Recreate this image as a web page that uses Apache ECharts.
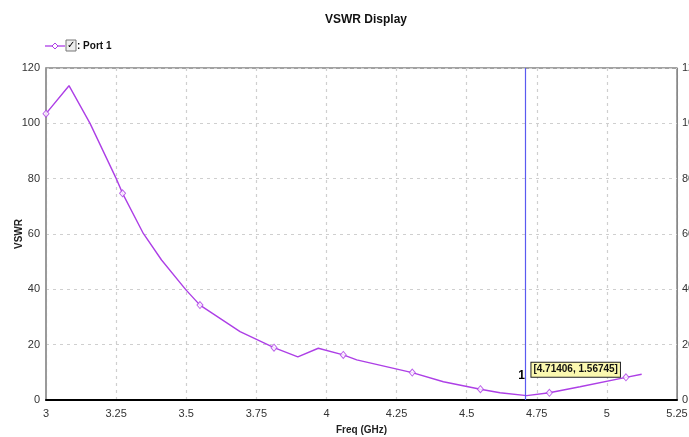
<!DOCTYPE html>
<html>
<head>
<meta charset="utf-8">
<script src="https://cdn.jsdelivr.net/npm/echarts@6/dist/echarts.min.js"></script>
<style>html,body{margin:0;padding:0;background:#fff;}#c{width:689px;height:437px;}</style>
</head>
<body>
<div id="c"></div>
<script>
// Curve samples (Freq GHz, VSWR)
var freq = [3.0, 3.082, 3.157, 3.25, 3.273, 3.347, 3.412, 3.499, 3.549, 3.692, 3.813, 3.898, 3.971, 4.060, 4.108, 4.306, 4.417, 4.549, 4.619, 4.714, 4.795, 4.904, 5.068, 5.124];
var vswr = [103.5, 113.6, 100.0, 80.1, 74.7, 60.2, 50.6, 39.8, 34.3, 24.7, 18.9, 15.6, 18.7, 16.3, 14.5, 9.9, 6.6, 3.9, 2.6, 1.57, 2.6, 4.8, 8.2, 9.3];
// Diamond markers on the trace
var markerFreq = [3.0, 3.273, 3.549, 3.813, 4.060, 4.306, 4.549, 4.795, 5.068];
var markerVswr = [103.5, 74.7, 34.3, 18.9, 16.3, 9.9, 3.9, 2.6, 8.2];
// Marker 1
var m1Freq = 4.71406;
var m1Vswr = 1.56745;
var xTicks = [3, 3.25, 3.5, 3.75, 4, 4.25, 4.5, 4.75, 5, 5.25];
var yTicks = [0, 20, 40, 60, 80, 100, 120];

var FONT = '"Liberation Sans Narrow", "Arial Narrow", "Liberation Sans", sans-serif';
var LINE = '#ad3fe6';

var lineData = freq.map(function (f, i) { return [f, vswr[i]]; });
var markData = markerFreq.map(function (f, i) { return [f, markerVswr[i]]; });

var chart = echarts.init(document.getElementById('c'), null, { renderer: 'canvas' });
chart.setOption({
  animation: false,
  backgroundColor: '#fff',
  title: {
    text: 'VSWR Display', left: 361, top: 9, textAlign: 'center',
    textStyle: { fontFamily: FONT, fontSize: 12, fontWeight: 'bold', color: '#111' }
  },
  graphic: [
    { type: 'line', shape: { x1: 45, y1: 46, x2: 65, y2: 46 }, style: { stroke: LINE, lineWidth: 1.3 } },
    { type: 'polygon', shape: { points: [[55, 43], [58, 46], [55, 49], [52, 46]] }, style: { fill: '#fff', stroke: LINE, lineWidth: 1 } },
    { type: 'rect', shape: { x: 66, y: 40, width: 10, height: 11 }, style: { fill: '#eee', stroke: '#777', lineWidth: 1 } },
    { type: 'text', x: 67, y: 40, style: { text: '\u2713', font: 'bold 10px "DejaVu Sans"', fill: '#000' } },
    { type: 'text', x: 77, y: 41, style: { text: ': Port 1', font: 'bold 10px ' + FONT, fill: '#111' } }
  ],
  grid: { left: 46, right: 12, top: 68, bottom: 37, show: true, borderColor: '#444', borderWidth: 1,
    containLabel: false, outerBoundsMode: 'none' },
  xAxis: {
    type: 'value', min: 3, max: 5.25, interval: 0.25,
    name: 'Freq (GHz)', nameLocation: 'middle', nameGap: 25, nameMoveOverlap: false,
    nameTextStyle: { fontFamily: FONT, fontSize: 10, fontWeight: 'bold', color: '#222' },
    axisLine: { show: true, onZero: false, lineStyle: { color: '#000', width: 2 } },
    axisTick: { show: false },
    axisLabel: { fontFamily: FONT, fontSize: 11, color: '#333', margin: 8, hideOverlap: false,
      formatter: function (v) { return String(+v.toFixed(2)); } },
    splitLine: { show: true, lineStyle: { color: '#cfcfcf', type: [3, 4], width: 1.2 } }
  },
  yAxis: [{
    type: 'value', min: 0, max: 120, interval: 20,
    name: 'VSWR', nameLocation: 'middle', nameGap: 22, nameRotate: 90, nameMoveOverlap: false,
    nameTextStyle: { fontFamily: FONT, fontSize: 10, fontWeight: 'bold', color: '#222' },
    axisLine: { show: true, onZero: false, lineStyle: { color: '#9a9a9a', width: 2 } },
    axisTick: { show: false },
    axisLabel: { fontFamily: FONT, fontSize: 11, color: '#333', margin: 6 },
    splitLine: { show: true, lineStyle: { color: '#cfcfcf', type: [3, 4], width: 1.2 } }
  }, {
    type: 'value', min: 0, max: 120, interval: 20, position: 'right',
    axisLine: { show: true, lineStyle: { color: '#888', width: 1 } },
    axisTick: { show: false },
    axisLabel: { fontFamily: FONT, fontSize: 11, color: '#333', margin: 5 },
    splitLine: { show: false }
  }],
  series: [{
    type: 'line', data: lineData, showSymbol: false, symbol: 'none',
    lineStyle: { color: LINE, width: 1.4 }, z: 3,
    markLine: {
      silent: true, symbol: 'none', animation: false,
      lineStyle: { color: '#5a5af0', width: 1.2, type: 'solid', opacity: 1 },
      label: { show: false },
      data: [{ xAxis: m1Freq }]
    },
    markPoint: {
      silent: true, symbol: 'rect', symbolSize: 0, animation: false,
      data: [{
        coord: [m1Freq, m1Vswr],
        label: {
          show: true, position: 'inside', offset: [49, -26],
          formatter: '[' + m1Freq + ', ' + m1Vswr + ']',
          fontFamily: FONT, fontSize: 10, fontWeight: 'bold', color: '#111',
          backgroundColor: '#fbf8b0', borderColor: '#222', borderWidth: 1,
          padding: [2, 2, 2, 2]
        }
      }, {
        coord: [m1Freq, m1Vswr],
        label: {
          show: true, position: 'inside', offset: [-5, -20], formatter: '1',
          fontFamily: FONT, fontSize: 12, fontWeight: 'bold', color: '#000'
        }
      }]
    }
  }, {
    type: 'scatter', data: markData, symbol: 'diamond', symbolSize: [6, 7],
    itemStyle: { color: '#fff', borderColor: LINE, borderWidth: 1 }, z: 4
  }]
});
</script>
</body>
</html>
